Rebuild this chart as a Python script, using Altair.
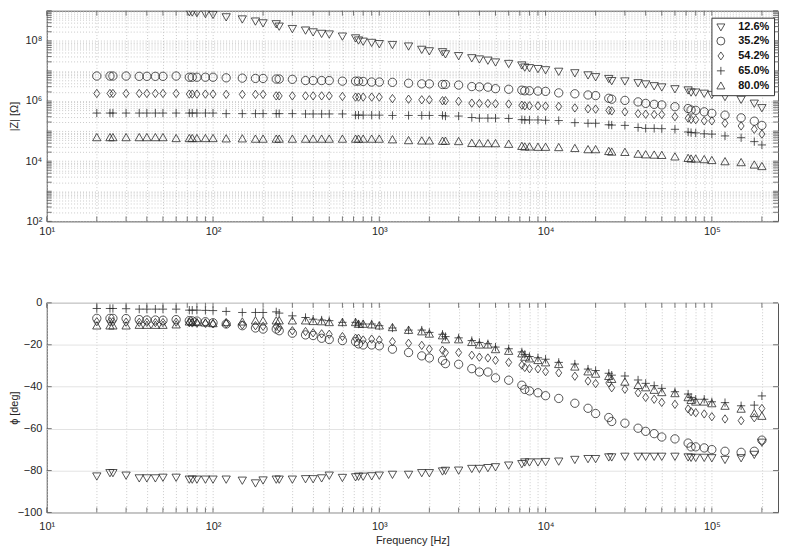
import altair as alt
import pandas as pd

FONT = "Liberation Sans"

# ---------------- data ----------------
freq = [20, 24, 25, 30, 36, 40, 45, 50, 60,
        72, 75, 80, 90, 100,
        120, 150, 180, 200,
        240, 250, 300, 360, 400, 450, 500, 600,
        720, 750, 800, 900, 1000,
        1200, 1500, 1800, 2000,
        2400, 2500, 3000, 3600, 4000, 4500, 5000, 6000,
        7200, 7500, 8000, 9000, 10000,
        12000, 15000, 18000, 20000,
        24000, 25000, 30000, 36000, 40000, 45000, 50000, 60000,
        72000, 75000, 80000, 90000, 100000,
        120000, 150000, 180000, 200000]

series = ["12.6%", "35.2%", "54.2%", "65.0%", "80.0%"]

# log10(|Z| / Ohm); None = above the plotted range
logz_126 = [None, None, None, None, None, None, None, None, None,
            8.96, 8.95, 8.93, 8.90, 8.87,
            8.79, 8.72, 8.65, 8.59,
            8.56, 8.48, 8.40, 8.35, 8.29, 8.24, 8.22, 8.15,
            8.09, 8.02, 7.98, 7.94, 7.90,
            7.87, 7.82, 7.71, 7.66,
            7.63, 7.56, 7.50, 7.43, 7.39, 7.35, 7.29, 7.24,
            7.19, 7.12, 7.10, 7.07, 7.03,
            6.98, 6.93, 6.86, 6.80,
            6.74, 6.67, 6.66, 6.60, 6.56, 6.50, 6.46, 6.40,
            6.36, 6.29, 6.29, 6.25, 6.21,
            6.14, 6.05, 5.92, 5.77]
logz_352 = [6.83, 6.83, 6.83, 6.83, 6.82, 6.82, 6.82, 6.82, 6.83,
            6.79, 6.79, 6.79, 6.79, 6.79,
            6.77, 6.76, 6.75, 6.75,
            6.73, 6.73, 6.72, 6.68, 6.68, 6.68, 6.68, 6.66,
            6.66, 6.66, 6.65, 6.63, 6.63,
            6.62, 6.59, 6.57, 6.57,
            6.55, 6.55, 6.53, 6.48, 6.47, 6.46, 6.41, 6.39,
            6.36, 6.34, 6.34, 6.33, 6.32,
            6.27, 6.24, 6.20, 6.18,
            6.09, 6.06, 6.02, 5.97, 5.92, 5.89, 5.87, 5.81,
            5.75, 5.70, 5.69, 5.64, 5.59,
            5.53, 5.44, 5.33, 5.19]
logz_542 = [6.25, 6.25, 6.25, 6.25, 6.25, 6.25, 6.25, 6.25, 6.25,
            6.23, 6.23, 6.23, 6.23, 6.23,
            6.22, 6.22, 6.22, 6.22,
            6.17, 6.17, 6.17, 6.17, 6.17, 6.17, 6.17, 6.15,
            6.13, 6.13, 6.13, 6.13, 6.13,
            6.08, 6.06, 6.04, 6.04,
            6.01, 6.01, 5.99, 5.93, 5.92, 5.92, 5.91, 5.90,
            5.86, 5.84, 5.84, 5.84, 5.83,
            5.82, 5.77, 5.74, 5.73,
            5.69, 5.67, 5.64, 5.58, 5.56, 5.55, 5.55, 5.48,
            5.43, 5.39, 5.38, 5.34, 5.34,
            5.26, 5.17, 5.06, 4.90]
logz_650 = [5.60, 5.60, 5.60, 5.60, 5.60, 5.60, 5.60, 5.60, 5.60,
            5.60, 5.60, 5.60, 5.60, 5.60,
            5.58, 5.58, 5.58, 5.58,
            5.58, 5.58, 5.58, 5.57, 5.57, 5.57, 5.57, 5.57,
            5.53, 5.53, 5.53, 5.53, 5.53,
            5.52, 5.52, 5.52, 5.52,
            5.52, 5.50, 5.50, 5.45, 5.43, 5.43, 5.43, 5.42,
            5.38, 5.37, 5.37, 5.37, 5.36,
            5.35, 5.28, 5.26, 5.26,
            5.21, 5.20, 5.19, 5.12, 5.09, 5.09, 5.08, 5.06,
            4.97, 4.95, 4.94, 4.91, 4.90,
            4.84, 4.78, 4.65, 4.54]
logz_800 = [4.79, 4.79, 4.79, 4.79, 4.79, 4.79, 4.79, 4.79, 4.76,
            4.76, 4.76, 4.76, 4.76, 4.76,
            4.75, 4.75, 4.74, 4.74,
            4.74, 4.74, 4.74, 4.74, 4.74, 4.74, 4.74, 4.74,
            4.74, 4.74, 4.74, 4.74, 4.74,
            4.72, 4.69, 4.68, 4.68,
            4.67, 4.67, 4.66, 4.60, 4.59, 4.59, 4.59, 4.57,
            4.50, 4.48, 4.48, 4.47, 4.47,
            4.46, 4.43, 4.39, 4.39,
            4.33, 4.31, 4.30, 4.24, 4.22, 4.21, 4.20, 4.15,
            4.10, 4.08, 4.08, 4.06, 4.03,
            3.99, 3.96, 3.88, 3.83]

# phase in degrees
ph_126 = [-82.7, -81.1, -81.1, -82.3, -83.6, -83.6, -83.6, -83.3, -83.3,
          -84.2, -84.2, -84.2, -84.2, -84.2,
          -84.2, -84.7, -86.0, -84.6,
          -84.2, -84.2, -84.2, -84.0, -84.0, -83.6, -82.3, -83.4,
          -83.1, -82.8, -82.8, -82.6, -82.3,
          -81.9, -81.9, -81.1, -81.1,
          -80.3, -80.0, -79.9, -79.1, -79.1, -78.7, -78.3, -77.5,
          -76.8, -76.0, -76.0, -76.0, -75.8,
          -75.6, -74.8, -74.4, -74.4,
          -73.6, -73.6, -73.3, -73.3, -73.3, -73.3, -73.3, -73.3,
          -73.6, -73.8, -73.8, -73.8, -74.0,
          -74.8, -74.0, -72.4, -66.6]
ph_352 = [-7.4, -7.4, -7.4, -7.5, -8.0, -8.2, -8.2, -8.3, -8.0,
          -8.5, -8.6, -8.7, -9.0, -9.5,
          -10.1, -10.9, -12.0, -12.5,
          -12.5, -13.3, -14.5, -15.3, -15.6, -16.9, -17.5, -18.0,
          -18.5, -19.6, -20.1, -20.1, -20.5,
          -22.1, -23.7, -25.3, -26.3,
          -27.4, -29.0, -29.3, -31.4, -33.0, -33.0, -35.8, -36.9,
          -39.3, -41.3, -42.0, -42.9, -44.3,
          -45.6, -47.9, -50.3, -52.8,
          -54.7, -56.6, -57.4, -59.8, -61.3, -62.4, -64.0, -64.9,
          -66.9, -68.7, -68.7, -69.2, -70.0,
          -70.8, -71.3, -70.8, -65.5]
ph_542 = [-9.0, -9.0, -9.0, -9.2, -9.3, -9.3, -9.4, -9.4, -9.2,
          -9.5, -9.6, -9.7, -9.8, -10.0,
          -10.0, -10.5, -10.9, -11.2,
          -11.2, -11.8, -13.3, -13.7, -14.3, -14.8, -15.0, -16.1,
          -16.9, -16.9, -17.7, -17.3, -17.7,
          -18.5, -19.3, -20.3, -22.0,
          -22.6, -23.7, -23.7, -25.0, -25.9, -26.3, -27.4, -28.4,
          -29.7, -30.8, -31.4, -31.5, -32.8,
          -33.4, -35.0, -37.3, -38.5,
          -38.2, -40.5, -41.2, -42.9, -45.1, -46.0, -47.5, -48.4,
          -50.6, -51.9, -52.4, -53.0, -54.3,
          -55.4, -56.2, -54.8, -50.4]
ph_650 = [-2.7, -2.7, -2.7, -2.8, -3.0, -3.0, -3.0, -3.0, -3.0,
          -3.5, -3.5, -3.5, -3.6, -3.7,
          -4.1, -4.6, -4.6, -4.6,
          -4.3, -4.9, -6.2, -7.0, -7.8, -8.2, -8.5, -9.3,
          -9.3, -10.1, -10.1, -10.1, -10.9,
          -12.0, -13.0, -13.0, -14.1,
          -15.0, -16.1, -16.7, -18.0, -18.9, -19.5, -21.1, -21.9,
          -23.4, -24.6, -25.6, -26.2, -26.9,
          -28.4, -29.2, -31.6, -32.3,
          -33.6, -34.5, -34.9, -36.8, -38.4, -39.5, -40.8, -42.4,
          -43.5, -45.1, -46.0, -46.0, -47.2,
          -47.6, -49.1, -48.8, -44.4]
ph_800 = [-10.9, -10.9, -10.9, -10.9, -10.6, -10.6, -10.6, -10.6, -10.4,
          -9.0, -9.2, -9.3, -9.5, -9.8,
          -9.3, -9.0, -8.5, -8.5,
          -8.5, -8.5, -8.5, -8.5, -8.8, -8.9, -9.3, -9.3,
          -9.3, -10.1, -10.1, -10.4, -10.9,
          -11.7, -13.0, -13.7, -14.8,
          -15.6, -17.5, -17.5, -18.8, -20.0, -20.0, -22.2, -23.0,
          -24.2, -25.8, -26.6, -27.4, -28.5,
          -29.3, -30.5, -32.8, -33.9,
          -35.0, -36.4, -37.7, -39.3, -40.4, -41.6, -42.7, -43.2,
          -45.1, -46.4, -47.2, -47.2, -48.0,
          -49.2, -50.6, -52.7, -54.0]

x_domain = [10, 2.5e5]
z_domain = [1e2, 1e9]
phase_domain = [-100, 0]
phase_ticks = [-100, -80, -60, -40, -20, 0]

# ---------------- tables ----------------
rows = []
for name, lz, ph in zip(series,
                        [logz_126, logz_352, logz_542, logz_650, logz_800],
                        [ph_126, ph_352, ph_542, ph_650, ph_800]):
    for f, z, p in zip(freq, lz, ph):
        rows.append({"f": f, "series": name,
                     "Z": None if z is None else 10 ** z, "phase": p})
df = pd.DataFrame(rows)

x_ticks = [k * 10 ** d for d in range(1, 6) for k in range(1, 10)
           if k * 10 ** d <= 2.5e5]
z_ticks = [k * 10 ** d for d in range(2, 9) for k in range(1, 10)] + [1e9]

xt_df = pd.DataFrame({"t": x_ticks})
zt_df = pd.DataFrame({"t": z_ticks})
pt_df = pd.DataFrame({"t": phase_ticks})

TRI_DOWN = "M-1,-0.8L1,-0.8L0,0.95Z"
TRI_UP = "M-1,0.8L1,0.8L0,-0.95Z"
DIAMOND = "M0,-1L0.72,0L0,1L-0.72,0Z"
PLUS = "M-1,0L1,0M0,-1L0,1"
shape_scale = alt.Scale(domain=series,
                        range=[TRI_DOWN, "circle", DIAMOND, PLUS, TRI_UP])

SUP = "['\u2070','\u00b9','\u00b2','\u00b3','\u2074','\u2075','\u2076','\u2077','\u2078','\u2079']"
EXP = "round(log(datum.value)/LN10)"
IS_DEC = f"abs(log(datum.value)/LN10 - {EXP}) < 1e-6"
x_label = f"{IS_DEC} ? '10' + {SUP}[{EXP}] : ''"
z_label = f"({IS_DEC}) && ({EXP} % 2 == 0) ? '10' + {SUP}[{EXP}] : ''"

GRID_DOT = dict(grid=True, gridDash=[1, 2], gridColor="#bdbdbd", gridWidth=0.8)

W, H_TOP, H_BOT = 736, 212, 211
TICK = 5
FRAME = "#555555"

x_scale = alt.Scale(type="log", domain=x_domain, nice=False)
z_scale = alt.Scale(type="log", domain=z_domain, nice=False)
p_scale = alt.Scale(domain=phase_domain, nice=False)

# axis definitions, shared by every layer of a panel so that they merge
ax_x_top = alt.Axis(values=x_ticks, labelExpr=x_label, title=None,
                    labelPadding=4, labelFlush=False, **GRID_DOT)
ax_z = alt.Axis(values=z_ticks, labelExpr=z_label, title="|Z| [\u03a9]",
                labelPadding=5, titleX=-27, titleBaseline="bottom", **GRID_DOT)
ax_x_bot = alt.Axis(values=x_ticks, labelExpr=x_label, title="Frequency [Hz]",
                    labelPadding=8, titlePadding=3, labelFlush=False, **GRID_DOT)
ax_p = alt.Axis(values=phase_ticks, title="\u03d5 [deg]", grid=True,
                gridColor="#e3e3e3", labelPadding=5,
                titleX=-27, titleBaseline="bottom")


def tick_layers(x_axis, y_df, y_scale, y_axis, h):
    """Inward tick marks on all four sides of a panel."""
    r = dict(color=FRAME, strokeWidth=0.8)
    xb = alt.Chart(xt_df).mark_rule(**r).encode(
        x=alt.X("t:Q", scale=x_scale, axis=x_axis),
        y=alt.value(h), y2=alt.value(h - TICK))
    xt = alt.Chart(xt_df).mark_rule(**r).encode(
        x=alt.X("t:Q", scale=x_scale, axis=x_axis),
        y=alt.value(0), y2=alt.value(TICK))
    yl = alt.Chart(y_df).mark_rule(**r).encode(
        y=alt.Y("t:Q", scale=y_scale, axis=y_axis),
        x=alt.value(0), x2=alt.value(TICK))
    yr = alt.Chart(y_df).mark_rule(**r).encode(
        y=alt.Y("t:Q", scale=y_scale, axis=y_axis),
        x=alt.value(W - TICK), x2=alt.value(W))
    return [xb, xt, yl, yr]


base = alt.Chart(df).mark_point(filled=False, size=70, strokeWidth=0.8,
                                color="#2a2a2a", opacity=1, clip=True)

top_pts = base.transform_filter("isValid(datum.Z)").encode(
    x=alt.X("f:Q", scale=x_scale, axis=ax_x_top),
    y=alt.Y("Z:Q", scale=z_scale, axis=ax_z),
    shape=alt.Shape("series:N", scale=shape_scale,
                    legend=alt.Legend(title=None, orient="none", legendX=669, legendY=7,
                                      direction="vertical", fillColor="white",
                                      strokeColor="#333333", padding=4,
                                      labelFont=FONT, labelFontSize=11,
                                      labelFontWeight="bold", labelColor="#111111",
                                      symbolSize=64, symbolStrokeWidth=0.8,
                                      symbolStrokeColor="#2a2a2a",
                                      symbolFillColor="transparent",
                                      labelOffset=12, rowPadding=2)),
)

bot_pts = base.encode(
    x=alt.X("f:Q", scale=x_scale, axis=ax_x_bot),
    y=alt.Y("phase:Q", scale=p_scale, axis=ax_p),
    shape=alt.Shape("series:N", scale=shape_scale, legend=None),
)

top = alt.layer(top_pts, *tick_layers(ax_x_top, zt_df, z_scale, ax_z, H_TOP)).properties(
    width=W, height=H_TOP)
bottom = alt.layer(bot_pts, *tick_layers(ax_x_bot, pt_df, p_scale, ax_p, H_BOT)).properties(
    width=W, height=H_BOT)

chart = alt.vconcat(top, bottom, spacing=82, bounds="flush").resolve_legend(
    shape="independent"
).properties(
    padding={"left": 0, "top": 0, "right": 0, "bottom": 0}
).configure_view(
    stroke=FRAME, strokeWidth=1
).configure_axis(
    labelFont=FONT, titleFont=FONT, labelFontSize=11, titleFontSize=11,
    labelColor="#262626", titleColor="#262626", titleFontWeight="normal",
    domain=False, ticks=False
)

chart.save("out.html", embed_options={"renderer": "svg", "actions": False})
